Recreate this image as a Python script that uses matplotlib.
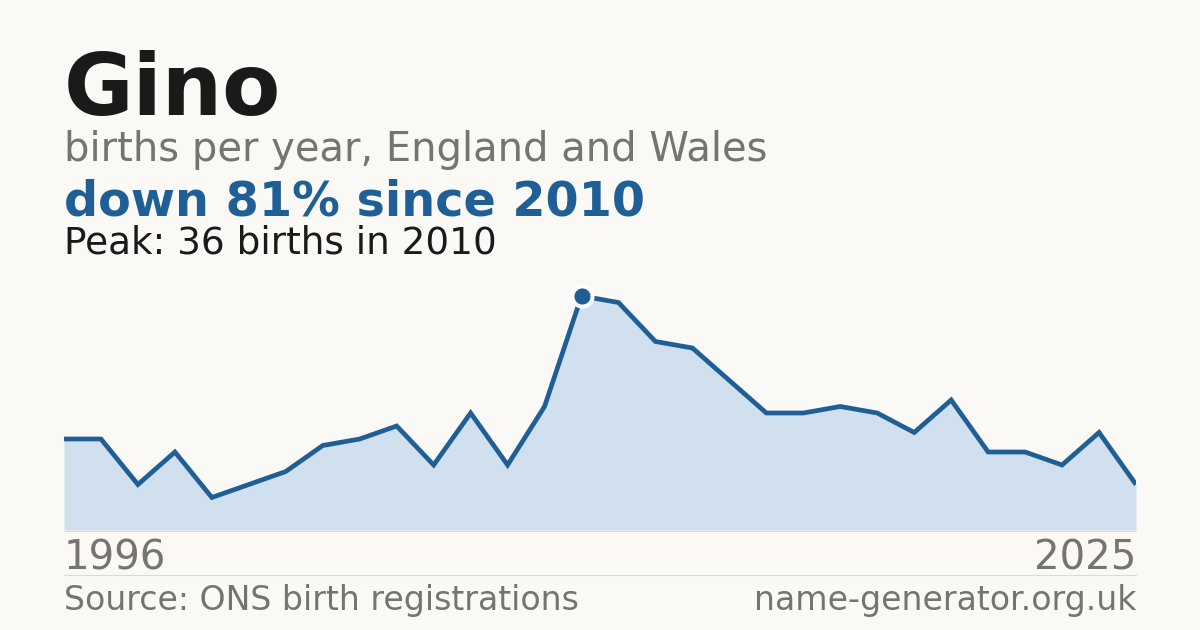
import matplotlib
matplotlib.use("Agg")
import matplotlib.pyplot as plt

years = list(range(1996, 2026))
births = [14, 14, 7, 12, 5, 7, 9, 13, 14, 16, 10, 18, 10, 19, 36, 35, 29, 28, 23, 18, 18, 19, 18, 15, 20, 12, 12, 10, 15, 7]
title = "Gino"
subtitle = "births per year, England and Wales"
headline = "down 81% since 2010"
peak_text = "Peak: 36 births in 2010"
source = "Source: ONS birth registrations"
site = "name-generator.org.uk"

BG = "#faf9f5"
BLUE = "#1f5f96"
FILL = "#d0e0ef"
GRAY = "#77736e"
DARK = "#1a1a1a"

W, H = 1200, 630
fig = plt.figure(figsize=(12, 6.3), dpi=100, facecolor=BG)

def fx(px):
    return px / W
def fy(py):
    return 1 - py / H

ax = fig.add_axes([fx(64), fy(530), fx(1136) - fx(64), (530 - 280) / H])
ax.set_facecolor("none")
ax.fill_between(years, births, 0, color=FILL, linewidth=0)
ax.plot(years, births, color=BLUE, linewidth=3.4, solid_joinstyle="miter", solid_capstyle="butt")
pk = births.index(max(births))
ax.plot([years[pk]], [births[pk]], marker="o", markersize=14.5, markerfacecolor=BLUE,
        markeredgecolor="white", markeredgewidth=2.9, zorder=5)
ax.set_xlim(years[0], years[-1])
ax.set_ylim(0, 36 * 250 / 234)
ax.axis("off")

fig.add_artist(plt.Line2D([fx(64), fx(1136)], [fy(530.5), fy(530.5)], color="#dcdad4", linewidth=0.8))
fig.add_artist(plt.Line2D([fx(64), fx(1136)], [fy(574.5), fy(574.5)], color="#dcdad4", linewidth=0.8))

fig.text(fx(64), fy(115), title, fontsize=61, fontweight="bold", color=DARK, va="baseline", ha="left")
fig.text(fx(64), fy(161), subtitle, fontsize=28.8, color=GRAY, va="baseline", ha="left")
fig.text(fx(64), fy(215), headline, fontsize=34.4, fontweight="bold", color=BLUE, va="baseline", ha="left")
fig.text(fx(64), fy(254), peak_text, fontsize=26.9, color=DARK, va="baseline", ha="left")
fig.text(fx(64), fy(569), str(years[0]), fontsize=29, color=GRAY, va="baseline", ha="left")
fig.text(fx(1136), fy(569), str(years[-1]), fontsize=29, color=GRAY, va="baseline", ha="right")
fig.text(fx(64), fy(610), source, fontsize=23.9, color=GRAY, va="baseline", ha="left")
fig.text(fx(1136), fy(610), site, fontsize=23.9, color=GRAY, va="baseline", ha="right")

fig.savefig("out.png", dpi=100, facecolor=BG)
